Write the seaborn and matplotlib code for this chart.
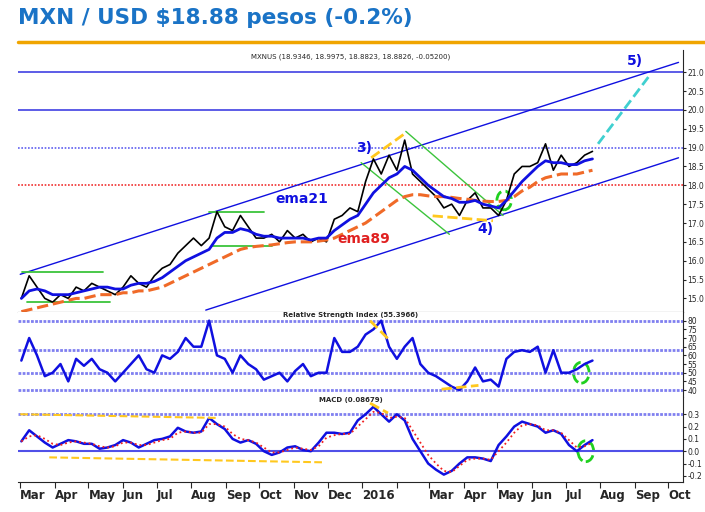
import numpy as np
import pandas as pd
import matplotlib
matplotlib.use("Agg")
import matplotlib.pyplot as plt
import matplotlib.dates as mdates
from matplotlib.patches import Ellipse
import seaborn as sns

# ── Data (weekly) ─────────────────────────────────────────────────────────────
close = [15.0, 15.6, 15.3, 15.0, 14.9, 15.1, 15.0, 15.3, 15.2,
         15.4, 15.3, 15.2, 15.1, 15.3, 15.6, 15.4, 15.3, 15.6,
         15.8, 15.9, 16.2, 16.4, 16.6, 16.4, 16.6, 17.3, 16.9,
         16.8, 17.2, 16.9, 16.6, 16.6, 16.7, 16.5, 16.8, 16.6,
         16.7, 16.5, 16.6, 16.5, 17.1, 17.2, 17.4, 17.3,
         18.1, 18.7, 18.3, 18.8, 18.4, 19.2, 18.3, 18.1, 17.9,
         17.7, 17.4, 17.5, 17.2, 17.6, 17.8, 17.4, 17.4, 17.2,
         17.6, 18.3, 18.5, 18.5, 18.6, 19.1, 18.4, 18.8, 18.5, 18.6, 18.8, 18.9]
ema21 = [15.0, 15.2, 15.25, 15.2, 15.1, 15.1, 15.1, 15.15, 15.2,
         15.25, 15.3, 15.3, 15.25, 15.25, 15.35, 15.4, 15.4, 15.45,
         15.55, 15.7, 15.85, 16.0, 16.1, 16.2, 16.3, 16.6, 16.75,
         16.75, 16.85, 16.8, 16.7, 16.65, 16.65, 16.6, 16.6, 16.6,
         16.6, 16.55, 16.6, 16.6, 16.8, 16.95, 17.1, 17.2,
         17.5, 17.8, 18.0, 18.2, 18.3, 18.5, 18.4, 18.2, 18.0,
         17.85, 17.7, 17.65, 17.55, 17.55, 17.6, 17.5, 17.45, 17.4,
         17.6, 17.85, 18.1, 18.3, 18.5, 18.65, 18.6, 18.6, 18.55, 18.55, 18.65, 18.7]
ema89 = [14.65, 14.7, 14.75, 14.8, 14.85, 14.9, 14.95, 15.0, 15.0,
         15.05, 15.1, 15.1, 15.1, 15.15, 15.15, 15.2, 15.2, 15.25,
         15.3, 15.4, 15.5, 15.6, 15.7, 15.8, 15.9, 16.0, 16.1,
         16.2, 16.3, 16.35, 16.38, 16.4, 16.42, 16.45, 16.48, 16.5,
         16.5, 16.5, 16.52, 16.55, 16.6, 16.7, 16.8, 16.9,
         17.0, 17.15, 17.3, 17.45, 17.6, 17.7, 17.75, 17.75, 17.72,
         17.7, 17.7, 17.68, 17.65, 17.63, 17.6, 17.58, 17.57, 17.57,
         17.6, 17.7, 17.85, 17.95, 18.1, 18.2, 18.25, 18.3, 18.3, 18.3, 18.35, 18.4]
rsi = [57, 70, 60, 48, 50, 55, 45, 58, 54,
       58, 52, 50, 45, 50, 55, 60, 52, 50,
       60, 58, 62, 70, 65, 65, 80, 60, 58,
       50, 60, 55, 52, 46, 48, 50, 45, 51,
       55, 48, 50, 50, 70, 62, 62, 65,
       72, 75, 80, 65, 58, 65, 70, 55, 50,
       48, 45, 42, 40, 45, 53, 45, 46, 42,
       58, 62, 63, 62, 65, 50, 63, 50, 50, 52, 55, 57]
macd = [0.08, 0.17, 0.12, 0.07, 0.03, 0.06, 0.09, 0.08, 0.06,
        0.06, 0.02, 0.03, 0.05, 0.09, 0.07, 0.03, 0.06, 0.09,
        0.10, 0.12, 0.19, 0.16, 0.15, 0.16, 0.27, 0.22, 0.18,
        0.10, 0.07, 0.09, 0.06, 0.00, -0.03, -0.01, 0.03, 0.04,
        0.01, 0.00, 0.07, 0.15, 0.15, 0.14, 0.15, 0.25,
        0.30, 0.36, 0.30, 0.24, 0.30, 0.25, 0.10, 0.00, -0.10,
        -0.15, -0.19, -0.16, -0.10, -0.05, -0.05, -0.06, -0.08, 0.05,
        0.12, 0.20, 0.24, 0.22, 0.20, 0.15, 0.17, 0.14, 0.05, 0.00, 0.05, 0.09]
signal = [0.08, 0.12, 0.13, 0.10, 0.06, 0.05, 0.07, 0.08, 0.07,
          0.06, 0.04, 0.03, 0.04, 0.07, 0.07, 0.05, 0.05, 0.07,
          0.09, 0.10, 0.15, 0.16, 0.15, 0.15, 0.22, 0.22, 0.20,
          0.14, 0.10, 0.09, 0.07, 0.03, -0.01, -0.01, 0.01, 0.03,
          0.02, 0.01, 0.04, 0.11, 0.13, 0.14, 0.14, 0.20,
          0.26, 0.32, 0.31, 0.27, 0.28, 0.27, 0.17, 0.07, -0.03,
          -0.10, -0.16, -0.17, -0.12, -0.07, -0.06, -0.06, -0.07, 0.00,
          0.07, 0.15, 0.21, 0.22, 0.21, 0.17, 0.17, 0.15, 0.09, 0.03, 0.04, 0.07]

month_ticks = pd.date_range("2015-03-01", "2016-10-01", freq="MS")
month_labels = [("2016" if d.month == 1 else d.strftime("%b")) for d in month_ticks]
month_labels = [("" if (d.year == 2016 and d.month == 2) else l) for d, l in zip(month_ticks, month_labels)]

dates = pd.date_range("2015-03-02", periods=len(close), freq="W-MON")
df = pd.DataFrame({"date": dates, "close": close, "ema21": ema21, "ema89": ema89,
                   "rsi": rsi, "macd": macd, "signal": signal})

BLUE = "#1010e0"
T = pd.Timestamp
X0, X1 = T("2015-02-27"), T("2016-10-14")

sns.set_style("white")
fig = plt.figure(figsize=(7.05, 5.12), dpi=100)
fig.text(0.025, 0.985, "MXN / USD $18.88 pesos (-0.2%)", color="#1a73c6",
         fontsize=15.5, fontweight="bold", va="top")
fig.add_artist(plt.Line2D([0.025, 1.0], [0.918, 0.918], color="#f0a500", lw=2.5))

L, W = 18 / 705, 665 / 705
ax = fig.add_axes([L, 200 / 512, W, 265 / 512 - 0.005])
ax_r = fig.add_axes([L, 115 / 512, W, 85 / 512], sharex=ax)
ax_m = fig.add_axes([L, 30 / 512, W, 85 / 512], sharex=ax)

# ── Main price panel ──────────────────────────────────────────────────────────
for lvl in [21.0, 20.0]:
    ax.axhline(lvl, color="#3030e0", lw=1.1)
ax.axhline(19.0, color="#6060f0", lw=1.2, ls=(0, (1, 1)))
ax.axhline(18.0, color="#f03030", lw=1.2, ls=(0, (1, 1)))
ax.plot([T("2015-03-01"), T("2016-10-10")], [15.64, 21.26], color=BLUE, lw=1)
ax.plot([T("2015-08-14"), T("2016-10-10")], [14.69, 18.73], color=BLUE, lw=1)
green = "#3cc43c"
ax.plot([T("2015-03-03"), T("2015-05-14")], [15.7, 15.7], color=green, lw=1.3)
ax.plot([T("2015-03-07"), T("2015-05-20")], [14.9, 14.9], color=green, lw=1.3)
ax.plot([T("2015-08-17"), T("2015-10-05")], [17.3, 17.3], color=green, lw=1.3)
ax.plot([T("2015-08-20"), T("2015-10-12")], [16.4, 16.4], color=green, lw=1.3)
ax.plot([T("2015-12-31"), T("2016-03-19")], [18.6, 16.7], color=green, lw=1)
ax.plot([T("2016-02-09"), T("2016-05-06")], [19.43, 17.2], color=green, lw=1)
yel = "#ffc81e"
ax.plot([T("2016-01-09"), T("2016-02-08")], [18.73, 19.37], color=yel, lw=2, ls="--")
ax.plot([T("2016-03-04"), T("2016-04-27")], [17.19, 17.06], color=yel, lw=2, ls="--")
ax.plot([T("2016-07-30"), T("2016-09-13")], [19.1, 20.87], color="#40d0d0", lw=2, ls="--")
ax.add_patch(Ellipse((mdates.date2num(T("2016-05-07")), 17.6), 13, 0.5,
                     fill=False, ec="#20d020", lw=2, ls="--"))
sns.lineplot(data=df, x="date", y="close", ax=ax, color="black", lw=1.2)
sns.lineplot(data=df, x="date", y="ema89", ax=ax, color="#f06a28", lw=2.2, ls="--")
sns.lineplot(data=df, x="date", y="ema21", ax=ax, color=BLUE, lw=2)
ax.text(T("2016-01-03"), 18.98, "3)", color=BLUE, fontsize=10, fontweight="bold", ha="center", va="center")
ax.text(T("2016-04-20"), 16.83, "4)", color=BLUE, fontsize=10, fontweight="bold", ha="center", va="center")
ax.text(T("2016-09-01"), 21.3, "5)", color=BLUE, fontsize=10, fontweight="bold", ha="center", va="center")
ax.text(T("2015-11-08"), 17.65, "ema21", color=BLUE, fontsize=10, fontweight="bold", ha="center", va="center")
ax.text(T("2016-01-02"), 16.57, "ema89", color="#e02020", fontsize=10, fontweight="bold", ha="center", va="center")
ax.text(0.5, 0.985, "MXNUS (18.9346, 18.9975, 18.8823, 18.8826, -0.05200)",
        transform=ax.transAxes, fontsize=5, ha="center", va="top")
ax.set_ylim(14.64, 21.6)
ax.set_yticks(np.arange(15.0, 21.01, 0.5))
ax.set_yticklabels([f"{v:.1f}" for v in np.arange(15.0, 21.01, 0.5)])

# ── RSI panel ─────────────────────────────────────────────────────────────────
for lvl in [40, 50, 63, 80]:
    ax_r.axhline(lvl, color="#8080f0", lw=2, ls=(0, (1, 0.5)))
sns.lineplot(data=df, x="date", y="rsi", ax=ax_r, color=BLUE, lw=1.8)
ax_r.plot([T("2016-01-08"), T("2016-01-25")], [80, 69], color=yel, lw=2, ls="--")
ax_r.plot([T("2016-03-12"), T("2016-04-14")], [40.5, 42.7], color=yel, lw=2, ls="--")
ax_r.add_patch(Ellipse((mdates.date2num(T("2016-07-15")), 50), 14, 12,
                       fill=False, ec="#20d020", lw=2, ls="--"))
ax_r.text(0.5, 0.995, "Relative Strength Index (55.3966)", transform=ax_r.transAxes,
          fontsize=5, fontweight="bold", ha="center", va="top")
ax_r.set_ylim(36, 85)
ax_r.set_yticks(range(40, 81, 5))

# ── MACD panel ────────────────────────────────────────────────────────────────
ax_m.axhline(0.3, color="#8080f0", lw=2, ls=(0, (1, 0.5)))
ax_m.axhline(0.0, color="#5050e8", lw=1.5)
sns.lineplot(data=df, x="date", y="macd", ax=ax_m, color=BLUE, lw=1.8)
sns.lineplot(data=df, x="date", y="signal", ax=ax_m, color="#f02020", lw=1.3, ls=":")
ax_m.plot([T("2015-03-01"), T("2015-08-25")], [0.30, 0.27], color=yel, lw=1.5, ls="--")
ax_m.plot([T("2015-03-27"), T("2015-11-26")], [-0.05, -0.09], color=yel, lw=1.5, ls="--")
ax_m.plot([T("2016-01-08"), T("2016-01-24")], [0.39, 0.31], color=yel, lw=2, ls="--")
ax_m.add_patch(Ellipse((mdates.date2num(T("2016-07-19")), 0.0), 14, 0.17,
                       fill=False, ec="#20d020", lw=2, ls="--"))
ax_m.text(0.5, 0.995, "MACD (0.08679)", transform=ax_m.transAxes,
          fontsize=5, fontweight="bold", ha="center", va="top")
ax_m.set_ylim(-0.25, 0.44)
ax_m.set_yticks(np.arange(-0.2, 0.31, 0.1))
ax_m.set_yticklabels([f"{v:.1f}" for v in np.arange(-0.2, 0.31, 0.1)])

for a in (ax, ax_r, ax_m):
    a.set_xlim(X0, X1)
    a.set_xlabel("")
    a.set_ylabel("")
    a.yaxis.tick_right()
    a.tick_params(axis="y", labelsize=5.5, length=2, pad=1, direction="out", right=True)
    for s in ["top", "left", "bottom"]:
        a.spines[s].set_visible(False)
    a.spines["right"].set_linewidth(0.8)
ax.spines["bottom"].set_visible(True)
plt.setp(ax.get_xticklabels(), visible=False)
plt.setp(ax_r.get_xticklabels(), visible=False)
ax.tick_params(axis="x", length=0)
ax_r.tick_params(axis="x", length=0)
ax_m.set_xticks(month_ticks)
ax_m.set_xticklabels(month_labels, fontsize=8.5, fontweight="bold", ha="left")
ax_m.tick_params(axis="x", length=4, pad=1, bottom=True)
ax_m.spines["bottom"].set_visible(True)

fig.savefig("out.png", dpi=100)
